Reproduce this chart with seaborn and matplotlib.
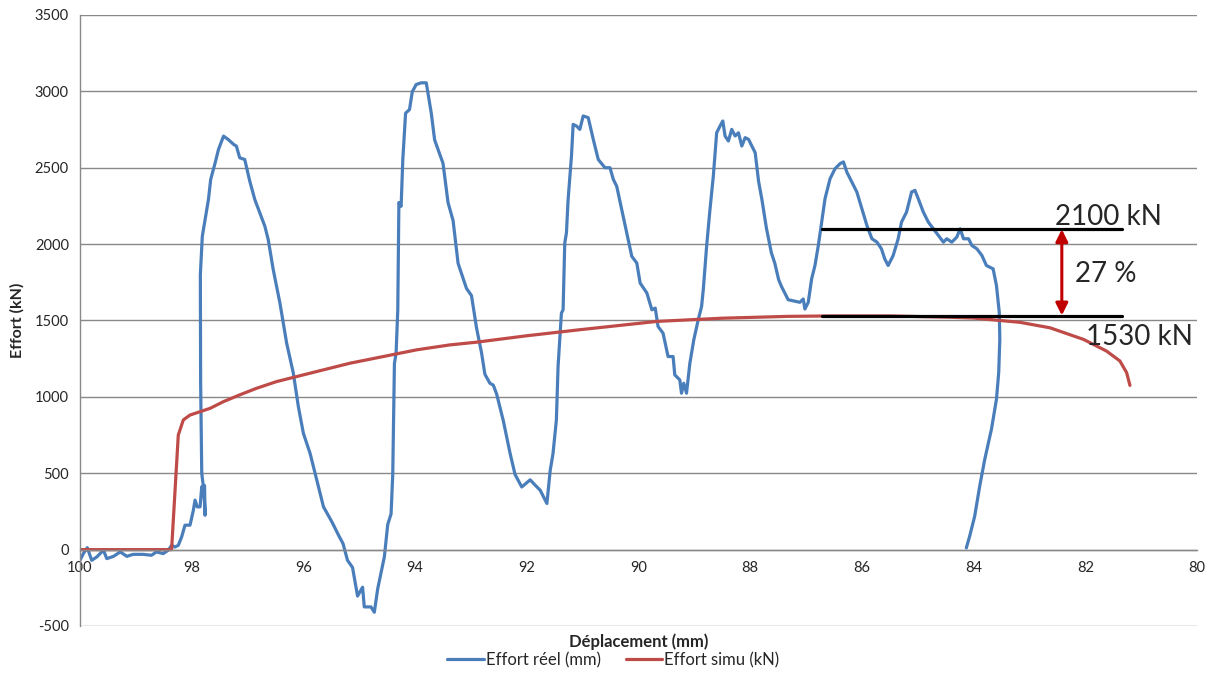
import matplotlib
matplotlib.use("Agg")
import matplotlib.pyplot as plt
import seaborn as sns
import pandas as pd

# Effort réel (courbe essai)
reel_x = [100.0, 99.94, 99.87, 99.79, 99.70, 99.58, 99.52, 99.40, 99.28, 99.16, 99.05,
          98.87, 98.72, 98.63, 98.51, 98.42, 98.36, 98.30, 98.24, 98.18, 98.12, 98.03,
          97.97, 97.94, 97.90, 97.85, 97.82, 97.79, 97.77, 97.76, 97.78, 97.82, 97.84,
          97.845, 97.81, 97.76, 97.70, 97.66, 97.58, 97.52, 97.43, 97.35, 97.25, 97.20,
          97.14, 97.05, 96.96, 96.87, 96.78, 96.69, 96.63, 96.54, 96.42, 96.30, 96.18,
          96.09, 96.00, 95.88, 95.79, 95.64, 95.49, 95.37, 95.29, 95.21, 95.12, 95.03,
          94.94, 94.91, 94.79, 94.73, 94.67, 94.55, 94.49, 94.43, 94.40, 94.37, 94.34,
          94.31, 94.29, 94.25, 94.22, 94.17, 94.10, 94.05, 93.98, 93.89, 93.80, 93.71,
          93.65, 93.50, 93.41, 93.32, 93.23, 93.08, 92.99, 92.90, 92.81, 92.75, 92.66,
          92.60, 92.54, 92.42, 92.30, 92.21, 92.09, 91.94, 91.85, 91.76, 91.64, 91.58,
          91.53, 91.47, 91.44, 91.38, 91.35, 91.32, 91.29, 91.26, 91.20, 91.17, 91.11,
          91.05, 90.99, 90.90, 90.81, 90.72, 90.60, 90.51, 90.45, 90.39, 90.30, 90.21,
          90.12, 90.03, 89.97, 89.85, 89.76, 89.70, 89.65, 89.56, 89.47, 89.38, 89.35,
          89.26, 89.23, 89.19, 89.14, 89.08, 89.01, 88.93, 88.87, 88.84, 88.78, 88.72,
          88.66, 88.60, 88.54, 88.49, 88.45, 88.39, 88.33, 88.27, 88.21, 88.15, 88.09,
          88.03, 87.97, 87.91, 87.85, 87.79, 87.71, 87.62, 87.56, 87.49, 87.44, 87.38,
          87.32, 87.11, 87.05, 87.02, 86.96, 86.90, 86.84, 86.78, 86.72, 86.66, 86.57,
          86.48, 86.39, 86.33, 86.27, 86.18, 86.09, 86.00, 85.91, 85.82, 85.73, 85.65,
          85.59, 85.53, 85.44, 85.35, 85.29, 85.20, 85.11, 85.05, 84.99, 84.90, 84.81,
          84.72, 84.63, 84.54, 84.48, 84.39, 84.30, 84.24, 84.18, 84.09, 84.03, 83.94,
          83.85, 83.77, 83.65, 83.59, 83.54, 83.53, 83.55, 83.59, 83.68, 83.80, 83.89,
          83.98, 84.07, 84.13]
reel_y = [-70, -26, 13, -70, -48, -4, -59, -44, -15, -44, -31,
          -31, -37, -15, -26, -4, 28, 17, 28, 83, 160, 160,
          258, 324, 280, 280, 412, 346, 420, 225, 380, 500, 1100,
          1800, 2051, 2161, 2292, 2423, 2532, 2620, 2707, 2686, 2653, 2642,
          2565, 2554, 2412, 2292, 2204, 2117, 2030, 1833, 1614, 1352, 1155,
          936, 761, 630, 499, 280, 182, 94, 39, -70, -117, -304,
          -246, -375, -375, -410, -258, -47, 164, 234, 492, 1218, 1288,
          1569, 2272, 2248, 2553, 2857, 2881, 2998, 3045, 3056, 3056, 2857,
          2682, 2529, 2272, 2155, 1874, 1710, 1663, 1452, 1288, 1148, 1089,
          1077, 1019, 843, 632, 492, 410, 457, 422, 389, 302, 520,
          630, 849, 1198, 1548, 1570, 2008, 2073, 2292, 2576, 2784, 2773,
          2751, 2839, 2828, 2686, 2554, 2500, 2500, 2423, 2379, 2226, 2073,
          1920, 1876, 1745, 1680, 1570, 1581, 1461, 1417, 1264, 1264, 1144,
          1111, 1024, 1089, 1024, 1220, 1373, 1505, 1592, 1701, 1986, 2226,
          2445, 2729, 2773, 2806, 2708, 2675, 2751, 2708, 2729, 2642, 2697,
          2686, 2642, 2598, 2412, 2292, 2106, 1942, 1876, 1767, 1723, 1680,
          1636, 1619, 1641, 1575, 1619, 1772, 1860, 1991, 2144, 2297, 2428,
          2494, 2527, 2538, 2472, 2407, 2341, 2232, 2122, 2035, 2013, 1969,
          1903, 1860, 1925, 2035, 2144, 2210, 2341, 2352, 2297, 2210, 2144,
          2100, 2057, 2013, 2035, 2013, 2046, 2100, 2035, 2035, 1991, 1969,
          1925, 1860, 1838, 1728, 1553, 1378, 1160, 985, 788, 591, 416,
          219, 88, 11]

# Effort simulé
simu_x = [100.0, 98.36, 98.24, 98.15, 98.03, 97.85, 97.67, 97.43, 97.14, 96.84,
          96.48, 96.12, 95.76, 95.17, 94.57, 93.97, 93.38, 92.90, 92.00, 91.04,
          89.67, 88.50, 87.32, 86.50, 85.50, 84.50, 84.00, 83.17, 82.63, 82.03,
          81.62, 81.38, 81.26, 81.20]
simu_y = [0, 0, 750, 849, 881, 903, 925, 969, 1013, 1056,
          1100, 1133, 1166, 1220, 1264, 1308, 1340, 1358, 1400, 1440,
          1494, 1515, 1527, 1530, 1530, 1522, 1516, 1488, 1452, 1376,
          1300, 1235, 1159, 1075]

seuil_haut = 2100
seuil_bas = 1530
seuil_x = [86.72, 81.35]

x_ticks = list(range(100, 79, -2))
y_ticks = list(range(-500, 3501, 500))

BLUE = "#4A7EBB"
RED = "#BE4B48"
GRID = "#898989"

sns.set_style("white")
plt.rcParams["font.family"] = ["Lato", "DejaVu Sans"]
plt.rcParams["axes.unicode_minus"] = False

df_reel = pd.DataFrame({"x": reel_x, "y": reel_y})
df_simu = pd.DataFrame({"x": simu_x, "y": simu_y})

fig = plt.figure(figsize=(12.12, 6.75), dpi=100)
ax = fig.add_axes([0.066, 0.0726, 0.9216, 0.9052])

sns.lineplot(data=df_reel, x="x", y="y", sort=False, estimator=None, color=BLUE,
             lw=2.3, ax=ax, label="Effort réel (mm)")
sns.lineplot(data=df_simu, x="x", y="y", sort=False, estimator=None, color=RED,
             lw=2.3, ax=ax, label="Effort simu (kN)")

# lignes de niveau et annotations
for lvl in (seuil_haut, seuil_bas):
    ax.plot(seuil_x, [lvl, lvl], color="black", lw=2.3, zorder=5)
ax.annotate("", xy=(82.42, 1533), xytext=(82.42, 2097),
            arrowprops=dict(arrowstyle="<|-|>", color="#C00000", lw=2.2,
                            mutation_scale=18, shrinkA=0, shrinkB=0), zorder=6)
ax.text(82.54, 2123, "2100 kN", fontsize=20, ha="left", va="baseline", zorder=7)
ax.text(82.18, 1752, "27 %", fontsize=20, ha="left", va="baseline", zorder=7)
ax.text(81.99, 1337, "1530 kN", fontsize=20, ha="left", va="baseline", zorder=7,
        clip_on=False)

ax.set_xlim(100, 80)
ax.set_ylim(-500, 3500)
ax.set_xticks(x_ticks)
ax.set_yticks(y_ticks)
ax.tick_params(axis="both", labelsize=10.5, length=5, width=1, color=GRID, pad=3)
ax.yaxis.grid(True, color=GRID, lw=1)
ax.set_axisbelow(True)

ax.spines["bottom"].set_position(("data", 0))
for s in ("top", "right"):
    ax.spines[s].set_visible(False)
for s in ("left", "bottom"):
    ax.spines[s].set_color(GRID)
    ax.spines[s].set_linewidth(1)

ax.set_xlabel("Déplacement (mm)", fontsize=12, fontweight="bold")
ax.xaxis.set_label_coords(0.5, -0.012)
ax.set_ylabel("Effort (kN)", fontsize=11.5, fontweight="bold")
ax.yaxis.set_label_coords(-0.05, 0.5)

ax.get_legend().remove()
handles, labels = ax.get_legend_handles_labels()
fig.legend(handles[:2], labels[:2], loc="lower center", bbox_to_anchor=(0.506, -0.012),
           ncol=2, frameon=False, fontsize=12, handlelength=2.2, columnspacing=1.5,
           handletextpad=0.1)

fig.savefig("out.png", dpi=100)
